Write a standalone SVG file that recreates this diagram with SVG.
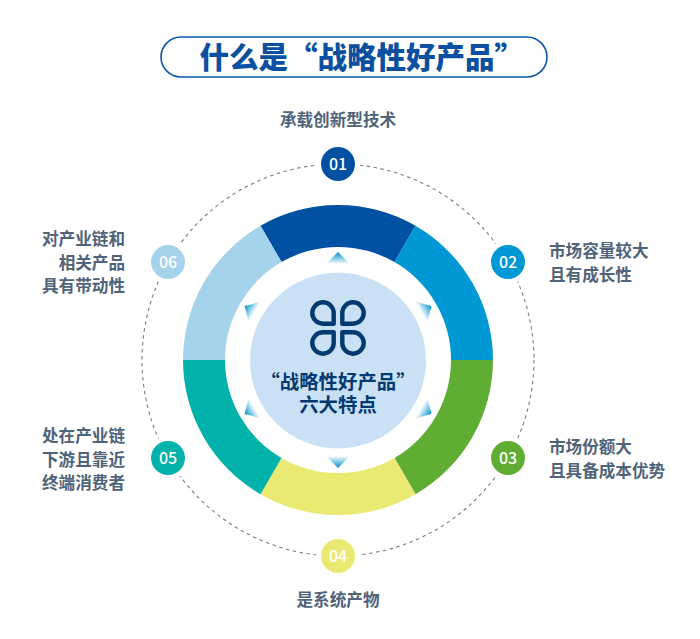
<svg xmlns="http://www.w3.org/2000/svg" width="700" height="639" viewBox="0 0 700 639">
<style>
text{font-family:"Noto Sans CJK SC","Noto Sans",sans-serif;}
.lbl{font-size:16.6px;font-weight:700;fill:#4f6379;}
.num{font-size:16px;font-weight:500;fill:#fff;text-anchor:middle;}
.ctr{font-size:19.4px;font-weight:700;fill:#003a70;text-anchor:middle;}
.petal{fill:none;stroke:#003a70;stroke-width:4.4;stroke-linejoin:round;}
</style>
<defs>
<linearGradient id="g" x1="0" y1="0" x2="0" y2="1"><stop offset="0" stop-color="#0090cc"/><stop offset="1" stop-color="#0090cc" stop-opacity="0.05"/></linearGradient>
<polygon id="tri" points="338,252 349.500,263.500 326.500,263.500" fill="url(#g)"/>
</defs>
<rect width="700" height="639" fill="#fff"/>
<g id="title">
<rect x="161" y="37" width="386" height="40" rx="20" fill="#fff" stroke="#0a57a8" stroke-width="1.600"/>
<text x="199.500" y="68" font-size="29.500" font-weight="900" fill="#0a4fa0">什么是“战略性好产品”</text>
</g>
<g id="connectors">
<circle cx="338" cy="360" r="196" fill="none" stroke="#6c7f94" stroke-width="1.100" stroke-dasharray="3.500 3.500"/>
</g>
<g id="ring">
<path d="M260.500 225.800A155 155 0 0 1 415.500 225.800L394.500 262.100A113 113 0 0 0 281.500 262.100Z" fill="#0051a3"/>
<path d="M415.500 225.800A155 155 0 0 1 493 360L451 360A113 113 0 0 0 394.500 262.100Z" fill="#0098d4"/>
<path d="M493 360A155 155 0 0 1 415.500 494.200L394.500 457.900A113 113 0 0 0 451 360Z" fill="#60ad33"/>
<path d="M415.500 494.200A155 155 0 0 1 260.500 494.200L281.500 457.900A113 113 0 0 0 394.500 457.900Z" fill="#e9ea72"/>
<path d="M260.500 494.200A155 155 0 0 1 183 360L225 360A113 113 0 0 0 281.500 457.900Z" fill="#00b2a9"/>
<path d="M183 360A155 155 0 0 1 260.500 225.800L281.500 262.100A113 113 0 0 0 225 360Z" fill="#a5d3ec"/>
</g>
<g id="center">
<circle cx="338" cy="360.500" r="88" fill="#cae0f4"/>
<use href="#tri"/>
<use href="#tri" transform="rotate(60 338 360)"/>
<use href="#tri" transform="rotate(120 338 360)"/>
<use href="#tri" transform="rotate(180 338 360)"/>
<use href="#tri" transform="rotate(240 338 360)"/>
<use href="#tri" transform="rotate(300 338 360)"/>
<path class="petal" d="M333.700 323.700H323A10.700 10.700 0 1 1 333.700 313Z"/>
<path class="petal" d="M342.300 323.700H353A10.700 10.700 0 1 0 342.300 313Z"/>
<path class="petal" d="M333.700 332.300H323A10.700 10.700 0 1 0 333.700 343Z"/>
<path class="petal" d="M342.300 332.300H353A10.700 10.700 0 1 1 342.300 343Z"/>
<text class="ctr" x="338" y="388.500">“战略性好产品”</text>
<text class="ctr" x="338" y="411.500">六大特点</text>
</g>
<g id="node-01">
<circle cx="338" cy="164" r="22" fill="#fff"/><circle cx="338" cy="164" r="17" fill="#0051a3"/>
<text class="num" x="338" y="169.700">01</text>
<text class="lbl" x="338" y="125.500" text-anchor="middle">承载创新型技术</text>
</g>
<g id="node-02">
<circle cx="508" cy="262" r="22" fill="#fff"/><circle cx="508" cy="262" r="17" fill="#0098d4"/>
<text class="num" x="508" y="267.700">02</text>
<text class="lbl" x="549" y="257">市场容量较大</text>
<text class="lbl" x="549" y="281">且有成长性</text>
</g>
<g id="node-03">
<circle cx="508" cy="458" r="22" fill="#fff"/><circle cx="508" cy="458" r="17" fill="#60ad33"/>
<text class="num" x="508" y="463.700">03</text>
<text class="lbl" x="549" y="453">市场份额大</text>
<text class="lbl" x="549" y="477">且具备成本优势</text>
</g>
<g id="node-04">
<circle cx="338" cy="556" r="22" fill="#fff"/><circle cx="338" cy="556" r="17" fill="#e9ea72"/>
<text class="num" x="338" y="561.700">04</text>
<text class="lbl" x="338" y="606" text-anchor="middle">是系统产物</text>
</g>
<g id="node-05">
<circle cx="168" cy="458" r="22" fill="#fff"/><circle cx="168" cy="458" r="17" fill="#00b2a9"/>
<text class="num" x="168" y="463.700">05</text>
<text class="lbl" x="125" y="442" text-anchor="end">处在产业链</text>
<text class="lbl" x="125" y="465.500" text-anchor="end">下游且靠近</text>
<text class="lbl" x="125" y="489" text-anchor="end">终端消费者</text>
</g>
<g id="node-06">
<circle cx="168" cy="262" r="22" fill="#fff"/><circle cx="168" cy="262" r="17" fill="#a5d3ec"/>
<text class="num" x="168" y="267.700">06</text>
<text class="lbl" x="125" y="245" text-anchor="end">对产业链和</text>
<text class="lbl" x="125" y="268.500" text-anchor="end">相关产品</text>
<text class="lbl" x="125" y="292" text-anchor="end">具有带动性</text>
</g>
</svg>
